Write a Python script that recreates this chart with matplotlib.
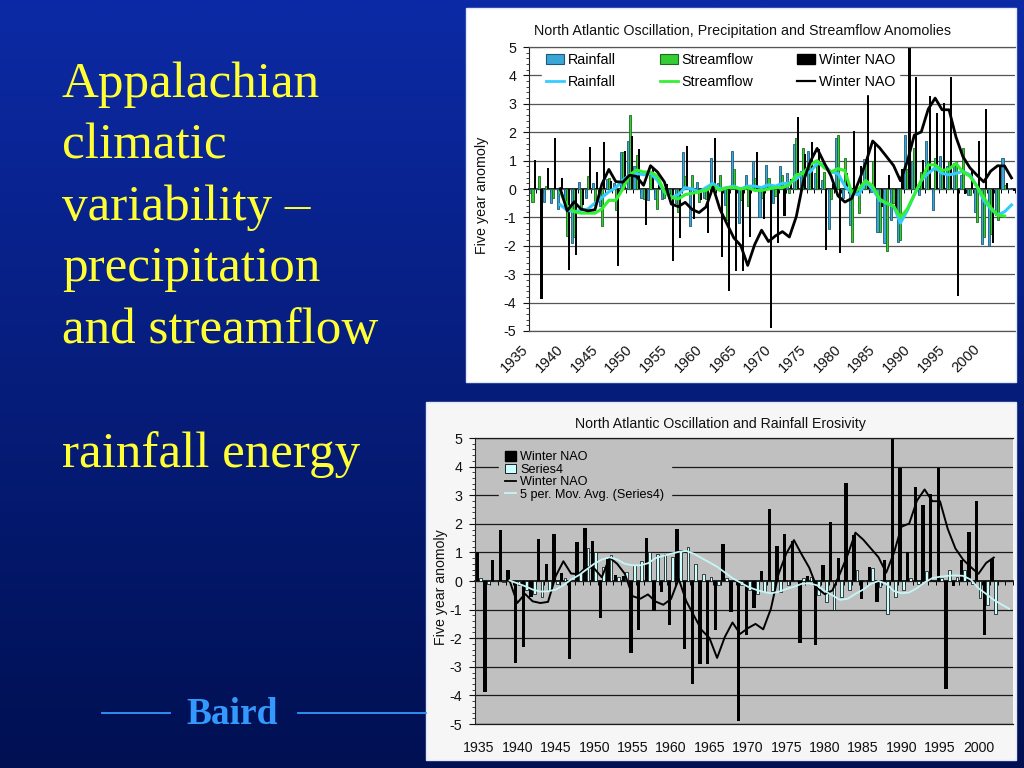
import numpy as np
import matplotlib
matplotlib.use("Agg")
import matplotlib.pyplot as plt
from matplotlib.patches import Rectangle, Patch
from matplotlib.lines import Line2D
from matplotlib.transforms import ScaledTranslation

plt.rcParams['axes.unicode_minus'] = False

# ---------------- data ----------------
years = list(range(1935, 2005))
tick_years = [1935, 1940, 1945, 1950, 1955, 1960, 1965, 1970, 1975, 1980,
              1985, 1990, 1995, 2000]

winter_nao = [1.03, -3.89, 0.74, 1.79, 0.38, -2.86, -2.31, -0.55, 1.48, 0.61,
              1.64, 0.29, -2.71, 1.35, 1.87, 1.41, -1.28, 0.77, 0.21, 0.16,
              -2.52, -1.73, 1.52, -1.04, -0.37, -1.55, 1.81, -2.38, -3.60, -2.89,
              -2.90, -1.70, 1.29, -1.07, -4.89, -1.89, -0.96, 0.34, 2.53, 1.23,
              1.64, 1.40, -2.16, 0.17, -2.25, 0.56, 2.05, 0.80, 3.42, 1.61,
              -0.63, 0.50, -0.75, 0.72, 5.08, 3.96, 1.03, 3.28, 2.67, 3.03,
              3.96, -3.78, -0.17, 0.72, 1.70, 2.80, -1.90, 0.76, 0.20, -0.07]

rainfall = [-0.15, 0.05, -0.45, -0.5, -0.7, -0.6, -1.9, 0.25, -0.3, 0.2,
            -0.6, 0.35, 0.2, 1.3, 1.7, 0.8, -0.3, -0.4, -0.35, -0.35,
            -0.3, -0.5, 1.3, -1.3, 0.25, -0.3, 1.1, 0.2, -0.55, 1.35,
            -1.2, 0.5, 1.0, -1.0, 0.85, -0.5, 0.8, 0.55, 1.6, 0.65,
            1.35, 0.55, 0.3, -1.4, 1.8, -0.3, -1.25, -0.2, 1.05, -0.1,
            -1.5, -1.9, -1.1, -1.85, 1.9, 1.0, -0.2, 1.7, -0.75, 1.15,
            0.8, 0.9, 0.5, -0.2, -0.8, -1.95, -2.0, -0.9, 1.1, 0.05]

streamflow = [-0.45, 0.45, 0.1, -0.3, 0.05, -1.65, -1.7, -0.7, 0.45, -0.55,
              -1.3, 0.4, -0.75, 1.3, 2.6, 1.2, -0.35, 0.5, -0.7, -0.3,
              -0.25, -0.8, 0.45, 0.5, -0.45, -0.35, 0.1, 0.5, -1.1, 0.7,
              -0.4, -0.6, 0.4, -0.3, 0.4, -0.25, 0.5, -0.15, 1.8, 1.45,
              1.0, 0.95, 0.6, -0.35, 1.9, 1.1, -1.85, -0.85, 0.95, 1.0,
              -1.5, -2.2, -0.5, -1.8, 0.7, 1.45, 0.6, 1.0, 1.1, 0.7,
              1.0, 0.95, 1.45, -0.2, -1.15, -1.7, -1.6, -1.1, 0.15, None]

nao_avg = [None, None, None, None,
           0.01, -0.77, -0.45, -0.71, -0.77, -0.73, 0.17, 0.69, 0.26, 0.24,
           0.49, 0.44, 0.13, 0.82, 0.60, 0.25, -0.53, -0.62, -0.47, -0.72,
           -0.83, -0.63, 0.07, -0.71, -1.22, -1.72, -1.99, -2.69, -1.96, -1.45,
           -1.85, -1.65, -1.50, -1.69, -0.97, 0.25, 0.96, 1.43, 0.93, 0.46,
           -0.24, -0.46, -0.33, 0.27, 0.92, 1.69, 1.45, 1.14, 0.83, 0.29,
           0.98, 1.90, 2.01, 2.81, 3.20, 2.79, 2.79, 1.83, 1.14, 0.75,
           0.49, 0.25, 0.63, 0.82, 0.81, 0.39]

rainfall_avg = [None, None, None, None,
                -0.55, -0.75, -0.8, -0.75, -0.7, -0.5, -0.3, -0.1, 0.05, 0.3,
                0.5, 0.55, 0.5, 0.55, 0.3, -0.1, -0.3, -0.2, 0.05, 0.0,
                -0.1, 0.05, 0.2, 0.0, 0.05, 0.1, 0.0, 0.1, 0.1, 0.05,
                0.15, 0.1, 0.2, 0.2, 0.35, 0.6, 0.6, 0.9, 0.85, 0.6,
                0.55, 0.1, -0.15, -0.2, 0.25, 0.0, -0.4, -0.5, -0.6, -1.2,
                -0.75, -0.2, 0.3, 0.55, 0.75, 0.55, 0.5, 0.55, 0.62, 0.5,
                0.1, -0.4, -0.7, -0.92, -0.8, -0.56]

streamflow_avg = [None, None, None, None,
                  -0.1, -0.6, -0.8, -0.85, -0.85, -0.85, -0.7, -0.4, -0.4, 0.0,
                  0.5, 0.67, 0.6, 0.6, 0.45, -0.1, -0.3, -0.35, -0.2, -0.15,
                  -0.1, -0.05, 0.1, -0.05, 0.05, 0.05, 0.0, 0.05, -0.05, -0.05,
                  0.0, 0.05, 0.05, 0.15, 0.5, 0.55, 0.85, 1.0, 0.75, 0.6,
                  0.72, 0.65, -0.15, 0.0, 0.3, 0.1, -0.35, -0.5, -0.6, -1.0,
                  -0.7, -0.2, 0.3, 0.85, 0.85, 0.65, 0.7, 0.9, 0.6, 0.45,
                  0.1, -0.3, -0.65, -0.92, -0.95, None]

series4 = [0.1, -0.1, 0.05, -0.05, 0.0, -0.15, -0.3, -0.45, -0.55, -0.3,
           -0.1, 0.1, 0.05, 0.3, 1.15, 1.0, 0.5, 0.9, 0.15, 0.3,
           0.55, 0.7, 1.0, 0.95, 0.95, 0.85, 1.1, 1.2, 0.6, 0.25,
           0.15, -0.15, 0.1, 0.0, -0.15, -0.3, -0.45, -0.4, -0.35, -0.4,
           -0.15, 0.05, 0.1, 0.15, -0.5, -0.75, -1.0, -0.55, -0.3, 0.4,
           0.05, 0.45, -0.2, -1.15, -0.55, -0.3, 0.1, -0.1, 0.35, 0.0,
           0.1, 0.4, 0.15, 0.4, -0.1, -0.6, -0.85, -1.15, None, None]

series4_avg = [None, None, None, None,
               0.02, -0.08, -0.18, -0.3, -0.37, -0.36, -0.3, -0.15, 0.05, 0.2,
               0.4, 0.6, 0.75, 0.83, 0.75, 0.6, 0.55, 0.55, 0.62, 0.8,
               0.88, 0.95, 1.02, 1.05, 0.95, 0.8, 0.65, 0.5, 0.3, 0.1,
               -0.05, -0.2, -0.3, -0.38, -0.43, -0.38, -0.28, -0.2, -0.1, -0.08,
               -0.15, -0.35, -0.5, -0.66, -0.62, -0.45, -0.3, -0.1, 0.0, -0.1,
               -0.35, -0.43, -0.4, -0.25, -0.05, 0.1, 0.15, 0.18, 0.2, 0.18,
               0.05, -0.25, -0.45, -0.66, -0.82, -0.97]

bottom_last_year = 2002

# ---------------- figure ----------------
W, H = 1024, 768
fig = plt.figure(figsize=(W / 100, H / 100), dpi=100)

bg = fig.add_axes([0, 0, 1, 1], zorder=-10)
bg.set_xlim(0, W)
bg.set_ylim(H, 0)
bg.axis('off')
top_c = np.array([12, 42, 165]) / 255
bot_c = np.array([0, 16, 82]) / 255
t = np.linspace(0, 1, 256)[:, None, None]
grad = top_c[None, None, :] * (1 - t) + bot_c[None, None, :] * t
bg.imshow(grad, extent=[0, W, H, 0], aspect='auto', interpolation='bilinear')

# chart boxes
bg.add_patch(Rectangle((466, 8), 550, 374, facecolor='white', edgecolor='#dfe8ff', lw=1))
bg.add_patch(Rectangle((426, 402), 590, 358, facecolor='#f6f6f6', edgecolor='#dfe8ff', lw=1))

serif = ['Liberation Serif', 'DejaVu Serif']
sans = ['Liberation Sans', 'DejaVu Sans']
yellow = '#ffff33'
for i, line in enumerate(['Appalachian', 'climatic', 'variability \u2013',
                          'precipitation', 'and streamflow']):
    bg.text(62, 97 + i * 61.5, line, color=yellow, fontsize=36.8,
            family=serif, va='baseline', ha='left')
bg.text(62, 467, 'rainfall energy', color=yellow, fontsize=36.8,
        family=serif, va='baseline', ha='left')

baird_c = '#3399ff'
bg.text(232, 724, 'Baird', color=baird_c, fontsize=27, fontweight='bold',
        family=serif, va='baseline', ha='center')
bg.plot([102, 170], [713, 713], color=baird_c, lw=1.3)
bg.plot([298, 426], [713, 713], color=baird_c, lw=1.3)

# chart titles / y labels
bg.text(742, 31, 'North Atlantic Oscillation, Precipitation and Streamflow Anomolies',
        fontsize=10.3, family=sans, ha='center', va='center', color='#111111')
bg.text(482, 195, 'Five year anomoly', fontsize=10.3, family=sans, rotation=90,
        ha='center', va='center', color='#111111')
bg.text(720, 424, 'North Atlantic Oscillation and Rainfall Erosivity',
        fontsize=10.2, family=sans, ha='center', va='center', color='#111111')
bg.text(441, 587, 'Five year anomoly', fontsize=10.2, family=sans, rotation=90,
        ha='center', va='center', color='#111111')

x = np.arange(len(years))
nao = np.array(winter_nao, dtype=float)
rain = np.array(rainfall, dtype=float)
stream = np.array(streamflow, dtype=float)
nao_a = np.array(nao_avg, dtype=float)
rain_a = np.array(rainfall_avg, dtype=float)
stream_a = np.array(streamflow_avg, dtype=float)
s4 = np.array(series4, dtype=float)
s4_a = np.array(series4_avg, dtype=float)
tick_idx = [years.index(y) for y in tick_years]


def style_axes(ax, grid_color):
    ax.set_xlim(-0.5, len(years) - 0.5)
    ax.set_ylim(-5, 5)
    ax.set_yticks(range(-5, 6))
    ax.set_yticks(np.arange(-5, 5.01, 0.2), minor=True)
    ax.yaxis.grid(True, color=grid_color, lw=0.9)
    ax.set_axisbelow(True)
    for s in ['top', 'bottom']:
        ax.spines[s].set_color(grid_color)
        ax.spines[s].set_linewidth(0.9)
    ax.spines['right'].set_visible(False)
    ax.spines['left'].set_color('#222222')
    ax.tick_params(axis='y', which='major', length=4, width=0.8, labelsize=10.3,
                   pad=5, colors='#111111')
    ax.tick_params(axis='y', which='minor', length=2, width=0.6, colors='#222222')
    for lab in ax.get_yticklabels():
        lab.set_family(sans)
    sec = ax.secondary_xaxis(0.5)
    sec.set_alignment('bottom')
    sec.set_xticks(np.arange(-0.5, len(years), 1.0))
    sec.tick_params(direction='out', length=3, width=0.7, labelbottom=False,
                    labeltop=False, colors='black')
    sec.spines['bottom'].set_color('black')
    sec.spines['bottom'].set_linewidth(1.2)


# ---------------- top chart ----------------
ax1 = fig.add_axes([529 / W, (H - 331) / H, 486 / W, 284 / H])
ax1.set_facecolor('white')
style_axes(ax1, '#555555')
bw = 0.3
rain_face, rain_edge = '#3aa6d8', '#1b5b7a'
stream_face, stream_edge = '#35cc35', '#1c6b1c'
ax1.bar(x - bw, rain, width=bw, color=rain_face, edgecolor=rain_edge, lw=0.6, zorder=2)
ax1.bar(x, stream, width=bw, color=stream_face, edgecolor=stream_edge, lw=0.6, zorder=2)
ax1.bar(x + bw, nao, width=bw, color='black', zorder=2)
ax1.plot(x, rain_a, color='#33ccff', lw=2.2, zorder=3)
ax1.plot(x, stream_a, color='#33f033', lw=2.2, zorder=3)
ax1.plot(x, nao_a, color='black', lw=2.0, zorder=3)
ax1.set_xticks(tick_idx, [str(y) for y in tick_years], rotation=45, ha='right',
               va='top', rotation_mode='anchor', fontsize=10.5, family=sans)
ax1.tick_params(axis='x', length=0, pad=8, colors='#111111')
shift = ScaledTranslation(-8 / 72, 0, fig.dpi_scale_trans)
for lab in ax1.get_xticklabels():
    lab.set_transform(lab.get_transform() + shift)

h1 = [Patch(facecolor=rain_face, edgecolor=rain_edge, lw=0.8),
      Line2D([], [], color='#33ccff', lw=2),
      Patch(facecolor=stream_face, edgecolor=stream_edge, lw=0.8),
      Line2D([], [], color='#33f033', lw=2),
      Patch(facecolor='black', edgecolor='black'),
      Line2D([], [], color='black', lw=1.6)]
l1 = ['Rainfall', 'Rainfall', 'Streamflow', 'Streamflow', 'Winter NAO', 'Winter NAO']
leg1 = ax1.legend(h1, l1, ncol=3, loc='upper left', bbox_to_anchor=(0.026, 0.9926),
                  borderaxespad=0, frameon=True, facecolor='white', edgecolor='white',
                  framealpha=1, fancybox=False, handlelength=1.25, handletextpad=0.25,
                  columnspacing=3.1, labelspacing=0.55, borderpad=0.3,
                  prop={'family': sans, 'size': 10.3})
leg1.set_zorder(5)

# ---------------- bottom chart ----------------
ax2 = fig.add_axes([475 / W, (H - 724) / H, 538 / W, 286 / H])
ax2.set_facecolor('#c0c0c0')
style_axes(ax2, '#1a1a1a')
nb = years.index(bottom_last_year) + 1
ax2.bar(x[:nb] - 0.21, nao[:nb], width=0.44, color='black', zorder=2)
ax2.bar(x + 0.21, s4, width=0.36, color='#ccffff', edgecolor='black', lw=0.5, zorder=2)
ax2.plot(x[:nb], nao_a[:nb], color='black', lw=1.4, zorder=3)
ax2.plot(x, s4_a, color='#c6f6f6', lw=1.3, zorder=3)
ax2.set_xticks(tick_idx, [str(y) for y in tick_years], fontsize=10.2, family=sans)
ax2.tick_params(axis='x', length=0, pad=12, colors='#111111')

h2 = [Patch(facecolor='black', edgecolor='black'),
      Patch(facecolor='#ccffff', edgecolor='black', lw=0.6),
      Line2D([], [], color='black', lw=1.3),
      Line2D([], [], color='#c6f6f6', lw=1.3)]
l2 = ['Winter NAO', 'Series4', 'Winter NAO', '5 per. Mov. Avg. (Series4)']
leg2 = ax2.legend(h2, l2, loc='upper left', bbox_to_anchor=(0.044, 0.9766),
                  borderaxespad=0, frameon=True, facecolor='#c0c0c0', edgecolor='#c0c0c0',
                  framealpha=1, fancybox=False, handlelength=0.9, handleheight=0.8,
                  handletextpad=0.3, labelspacing=0.03, borderpad=0.5,
                  prop={'family': sans, 'size': 9.1})
leg2.set_zorder(5)

fig.savefig('out.png', dpi=100)
